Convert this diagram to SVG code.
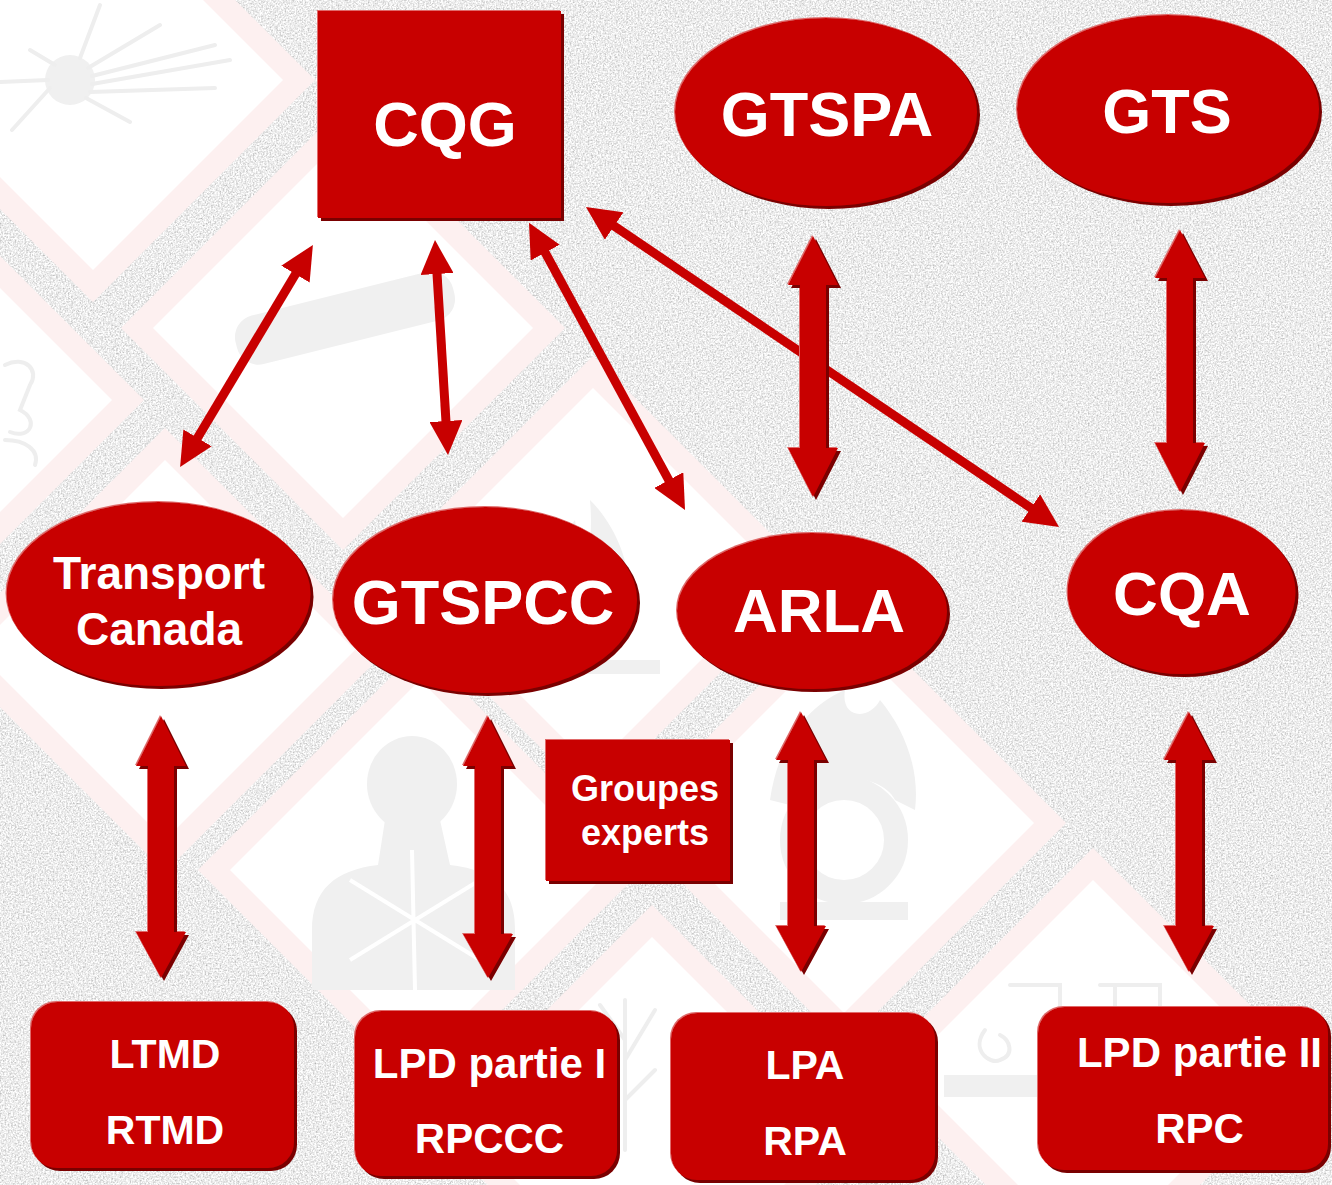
<svg xmlns="http://www.w3.org/2000/svg" width="1332" height="1185" viewBox="0 0 1332 1185">
  <defs>
    <filter id="tex" x="0" y="0" width="100%" height="100%">
      <feTurbulence type="fractalNoise" baseFrequency="0.6" numOctaves="3" seed="4"/>
      <feColorMatrix type="matrix" values="0.9 0 0 0 0.39  0.9 0 0 0 0.39  0.9 0 0 0 0.39  0 0 0 0 1"/>
    </filter>
    <filter id="bev" x="-5%" y="-5%" width="112%" height="112%">
      <feOffset in="SourceAlpha" dx="3" dy="3" result="o1"/>
      <feFlood flood-color="#7a0000"/>
      <feComposite in2="o1" operator="in" result="sh"/>
      <feOffset in="SourceAlpha" dx="-1.5" dy="-1.5" result="o2"/>
      <feFlood flood-color="#e06a6a"/>
      <feComposite in2="o2" operator="in" result="hl"/>
      <feMerge><feMergeNode in="hl"/><feMergeNode in="sh"/><feMergeNode in="SourceGraphic"/></feMerge>
    </filter>
    <marker id="ah" markerUnits="userSpaceOnUse" markerWidth="34" markerHeight="33" viewBox="0 0 34 33" refX="4" refY="16.5" orient="auto-start-reverse">
      <path d="M0,0 L34,16.5 L0,33 z" fill="#c80000"/>
    </marker>
    <style>
      .pink { fill: #fdf0f0; }
      .white { fill: #ffffff; }
      .pic { fill: #f0f0f0; }
      .picl { fill: none; stroke: #eeeeee; stroke-width: 4; stroke-linecap: round; }
      .nd { fill: #c80000; filter: url(#bev); }
      .blk { fill: #c80000; filter: url(#bev); }
      .thin { stroke: #c80000; stroke-width: 9; fill: none; marker-start: url(#ah); marker-end: url(#ah); }
      text { font-family: "Liberation Sans", Arial, sans-serif; font-weight: bold; fill: #ffffff; text-anchor: middle; }
      .big { font-size: 63px; }
      .tc { font-size: 46px; }
      .ge { font-size: 36px; }
      .bx { font-size: 41px; }
      .bx2 { font-size: 42px; }
    </style>
  </defs>

  <!-- background -->
  <g id="background">
    <rect x="0" y="0" width="1332" height="1185" fill="#d8d8d8" filter="url(#tex)"/>
    <g id="diamonds-outer">
      <polygon class="pink" points="93,-142 315,80 93,302 -129,80"/>
      <polygon class="pink" points="343,106 565,328 343,550 121,328"/>
      <polygon class="pink" points="-78,178 144,400 -78,622 -300,400"/>
      <polygon class="pink" points="165,428 387,650 165,872 -57,650"/>
      <polygon class="pink" points="420,648 642,870 420,1092 198,870"/>
      <polygon class="pink" points="593,356 815,578 593,800 371,578"/>
      <polygon class="pink" points="844,601 1066,823 844,1045 622,823"/>
      <polygon class="pink" points="1093,848 1315,1070 1093,1292 871,1070"/>
      <polygon class="pink" points="652,905 874,1127 652,1349 430,1127"/>
    </g>
    <g id="diamonds-inner">
      <polygon class="white" points="93,-110 283,80 93,270 -97,80"/>
      <polygon class="white" points="343,138 533,328 343,518 153,328"/>
      <polygon class="white" points="-78,210 112,400 -78,590 -268,400"/>
      <polygon class="white" points="165,460 355,650 165,840 -25,650"/>
      <polygon class="white" points="420,680 610,870 420,1060 230,870"/>
      <polygon class="white" points="593,388 783,578 593,768 403,578"/>
      <polygon class="white" points="844,633 1034,823 844,1013 654,823"/>
      <polygon class="white" points="1093,880 1283,1070 1093,1260 903,1070"/>
      <polygon class="white" points="652,937 842,1127 652,1317 462,1127"/>
    </g>
    <g id="pictograms">
      <!-- explosion -->
      <circle class="pic" cx="70" cy="80" r="25"/>
      <path class="picl" d="M88,68 L160,25 M92,76 L215,45 M92,84 L230,60 M90,92 L215,88 M80,58 L100,5 M86,98 L130,122 M50,88 L12,130 M48,80 L0,82 M55,65 L30,50"/>
      <!-- gas cylinder -->
      <rect class="pic" x="233" y="293" width="224" height="50" rx="22" transform="rotate(-14 345 318)"/>
      <!-- bones -->
      <path class="picl" d="M5,365 C25,355 40,370 30,385 L20,410 C40,420 30,440 10,432 M5,440 C25,440 40,450 35,465"/>
      <!-- flame -->
      <path class="pic" d="M560,660 C535,610 545,560 575,520 C580,560 595,560 590,500 C620,530 640,580 625,640 C615,660 600,665 560,660 z"/>
      <rect class="pic" x="520" y="660" width="140" height="14"/>
      <!-- health hazard person -->
      <ellipse class="pic" cx="412" cy="784" rx="45" ry="48"/>
      <path class="pic" d="M385,820 L440,820 L450,865 C495,870 515,890 515,930 L515,990 L312,990 L312,930 C312,890 335,870 378,865 z"/>
      <path d="M412,850 L415,990 M350,880 L480,960 M350,960 L480,880" stroke="#ffffff" stroke-width="4" fill="none"/>
      <!-- flame over circle -->
      <circle cx="844" cy="840" r="52" fill="none" stroke="#f0f0f0" stroke-width="24"/>
      <path class="pic" d="M770,800 C780,730 820,700 845,690 C840,720 870,720 880,700 C905,730 920,770 915,810 L895,800 C880,770 810,770 790,805 z"/>
      <rect class="pic" x="780" y="902" width="128" height="18"/>
      <!-- corrosion -->
      <path class="picl" d="M1010,985 L1060,985 L1060,1035 M1100,985 L1160,985 L1160,1010 M1115,985 L1115,1020"/>
      <rect class="pic" x="944" y="1075" width="240" height="22"/>
      <path class="picl" d="M985,1030 C970,1050 990,1065 1000,1060 C1015,1055 1010,1040 1000,1035"/>
      <!-- environment -->
      <path class="picl" d="M625,1000 L625,1150 M625,1040 L600,1005 M625,1060 L655,1010 M625,1100 L655,1070"/>
    </g>
  </g>

  <!-- connectors -->
  <g id="connectors">
    <line class="thin" x1="297.5" y1="270.7" x2="195.5" y2="441.3"/>
    <line class="thin" x1="436.8" y1="270" x2="446.2" y2="425"/>
    <line class="thin" x1="543.3" y1="249.1" x2="670.7" y2="483.6"/>
    <line class="thin" x1="610.8" y1="223.8" x2="1034.2" y2="510.2"/>
    <polygon class="blk" points="813,236 838,285 826,285 826,448 838,448 813,497 788,448 800,448 800,285 788,285"/>
    <polygon class="blk" points="1180,230 1205,278 1193,278 1193,443 1205,443 1180,492 1155,443 1167,443 1167,278 1155,278"/>
    <polygon class="blk" points="161,716 186,766 174,766 174,932 186,932 161,978 136,932 148,932 148,766 136,766"/>
    <polygon class="blk" points="488,716 513,766 501,766 501,934 513,934 488,978 463,934 475,934 475,766 463,766"/>
    <polygon class="blk" points="801,712 826,760 814,760 814,926 826,926 801,972 776,926 788,926 788,760 776,760"/>
    <polygon class="blk" points="1189,712 1214,760 1202,760 1202,926 1214,926 1189,972 1164,926 1176,926 1176,760 1164,760"/>
  </g>

  <!-- nodes -->
  <g id="node-cqg">
    <rect class="nd" x="318" y="11" width="243" height="207"/>
    <text class="big" x="445" y="146">CQG</text>
  </g>
  <g id="node-gtspa">
    <ellipse class="nd" cx="826" cy="112" rx="151" ry="94"/>
    <text class="big" x="827" y="136">GTSPA</text>
  </g>
  <g id="node-gts">
    <ellipse class="nd" cx="1168" cy="109" rx="151" ry="94"/>
    <text class="big" x="1167" y="133">GTS</text>
  </g>
  <g id="node-transport-canada">
    <ellipse class="nd" cx="158.5" cy="594" rx="152" ry="92"/>
    <text class="tc" x="159" y="589">Transport</text>
    <text class="tc" x="159" y="645">Canada</text>
  </g>
  <g id="node-gtspcc">
    <ellipse class="nd" cx="485" cy="600" rx="152" ry="93"/>
    <text class="big" x="483" y="624">GTSPCC</text>
  </g>
  <g id="node-arla">
    <ellipse class="nd" cx="812" cy="611" rx="135" ry="78"/>
    <text class="big" x="819" y="632" style="font-size:62px">ARLA</text>
  </g>
  <g id="node-cqa">
    <ellipse class="nd" cx="1181.5" cy="592" rx="114" ry="82"/>
    <text class="big" x="1182" y="615" style="font-size:62px">CQA</text>
  </g>
  <g id="node-groupes-experts">
    <rect class="nd" x="546" y="740" width="184" height="141"/>
    <text class="ge" x="645" y="801">Groupes</text>
    <text class="ge" x="645" y="845">experts</text>
  </g>
  <g id="node-ltmd">
    <rect class="nd" x="31" y="1002" width="263" height="166" rx="26"/>
    <text class="bx" x="165" y="1068">LTMD</text>
    <text class="bx" x="165" y="1144">RTMD</text>
  </g>
  <g id="node-lpd1">
    <rect class="nd" x="355" y="1011" width="262" height="165" rx="26"/>
    <text class="bx2" x="489.5" y="1078">LPD partie I</text>
    <text class="bx2" x="489.5" y="1153">RPCCC</text>
  </g>
  <g id="node-lpa">
    <rect class="nd" x="671" y="1013" width="264" height="167" rx="26"/>
    <text class="bx" x="805" y="1079">LPA</text>
    <text class="bx" x="805" y="1155">RPA</text>
  </g>
  <g id="node-lpd2">
    <rect class="nd" x="1038" y="1007" width="290" height="163" rx="26"/>
    <text class="bx2" x="1199.5" y="1067">LPD partie II</text>
    <text class="bx2" x="1199.5" y="1143">RPC</text>
  </g>
</svg>
